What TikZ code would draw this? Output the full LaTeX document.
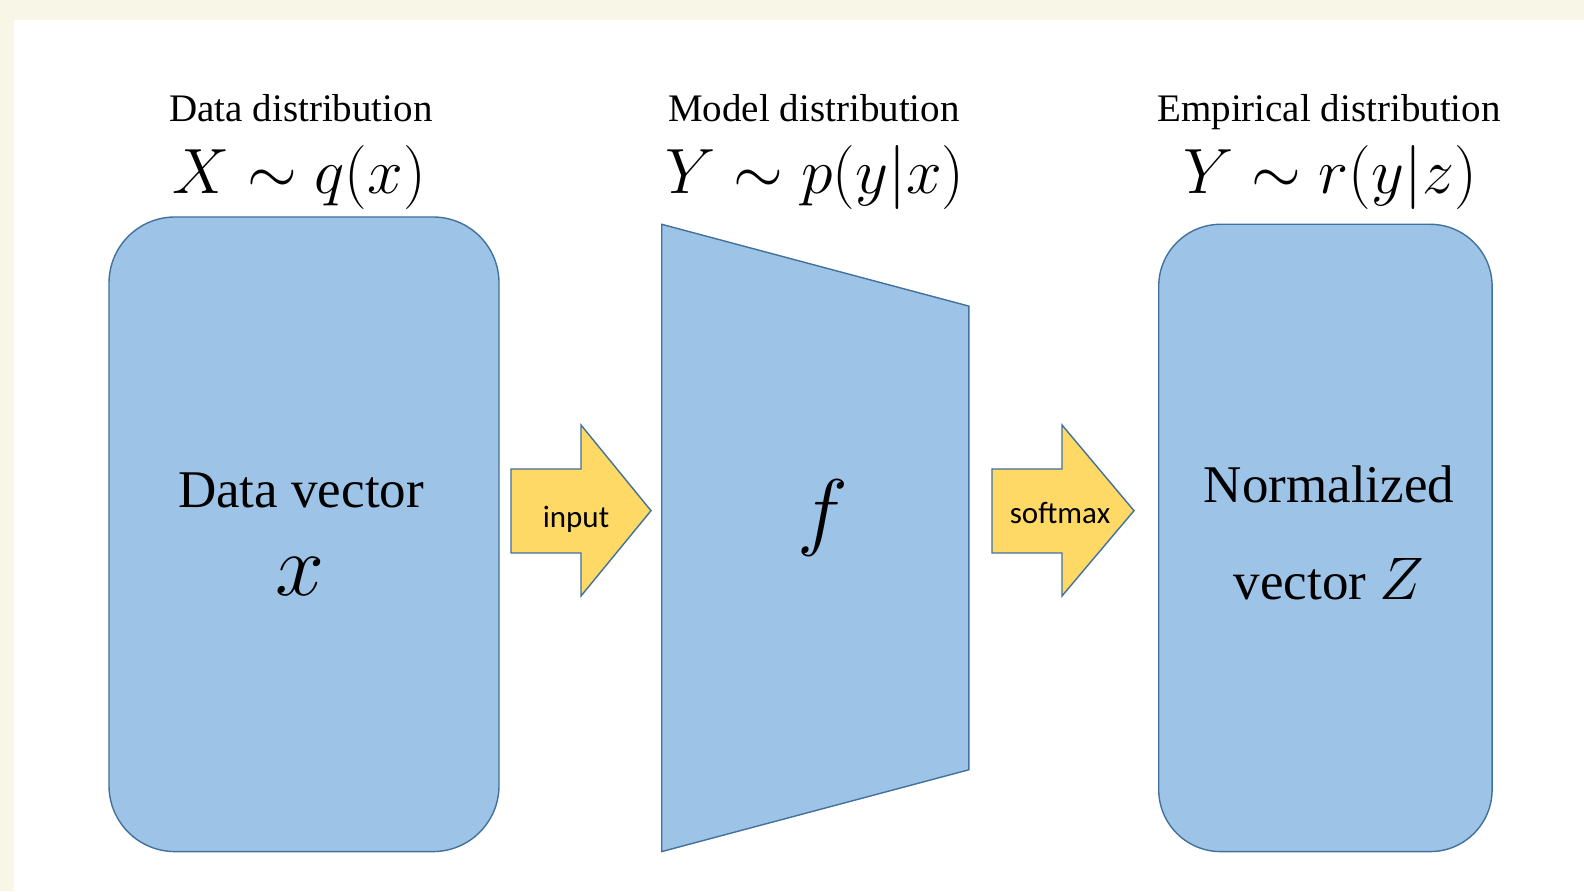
\documentclass[tikz,border=0pt]{standalone}
\usepackage{fix-cm}
\usepackage{fontspec}
\setmainfont{Liberation Serif}
\newfontfamily\labelfont{Carlito}
\definecolor{boxfill}{HTML}{9DC3E6}
\definecolor{boxline}{HTML}{41719C}
\definecolor{arrowfill}{HTML}{FFD966}
\definecolor{paper}{HTML}{F8F7E7}
\tikzset{
  block/.style={fill=boxfill, draw=boxline, line width=1.4pt},
  blockarrow/.style={fill=arrowfill, draw=boxline, line width=1.4pt, line join=miter},
  title/.style={inner sep=0pt, anchor=base, font=\fontsize{39}{46}\selectfont},
  formula/.style={inner sep=0pt, anchor=base, font=\fontsize{64}{74}\selectfont},
  inside/.style={inner sep=0pt, anchor=base, font=\fontsize{53}{62}\selectfont},
  arrowtext/.style={inner sep=0pt, anchor=base, font=\labelfont\fontsize{31}{36}\selectfont},
}
\begin{document}
\begin{tikzpicture}[x=1pt,y=1pt]
  % page and frame
  \fill[white] (0,0) rectangle (1584,891);
  \fill[paper] (0,871) rectangle (1584,891);
  \fill[paper] (0,0) rectangle (14,891);
  \useasboundingbox (0,0) rectangle (1584,891);

  % data block
  \draw[block, rounded corners=66pt] (109,39.4) rectangle (499,674);
  \node[inside] (datavec) at (301,383) {Data vector};
  \node[inner sep=0pt, anchor=base, font=\fontsize{88}{96}\selectfont] (datax) at (300,295) {$x$};

  % model block (trapezoid)
  \draw[block, line join=miter] (661.7,666.7) -- (968.8,584.9) -- (968.8,121.2) -- (661.7,39.4) -- cycle;
  \node[inner sep=0pt, anchor=base, font=\fontsize{86}{96}\selectfont] (model) at (823,351) {$f$};

  % normalized block
  \draw[block, rounded corners=62pt] (1158.7,39.4) rectangle (1492.1,666.7);
  \node[inside] (norm1) at (1329,388) {Normalized};
  \node[inside] (norm2) at (1329,291) {vector {\fontsize{60}{70}\selectfont$Z$}};

  % block arrows
  \draw[blockarrow] (511,422) -- (581,422) -- (581,466) -- (651,380.3) -- (581,295) -- (581,338) -- (511,338) -- cycle;
  \node[arrowtext] (input) at (576,363) {input};
  \draw[blockarrow] (992,422) -- (1062,422) -- (1062,466) -- (1134,380.3) -- (1062,295) -- (1062,338) -- (992,338) -- cycle;
  \node[arrowtext] (softmax) at (1060,367) {softmax};

  % headings
  \node[title] (t1) at (301,769) {Data distribution};
  \node[formula] (m1) at (299,697) {$X\sim q(x)$};
  \node[title] (t2) at (814,769) {Model distribution};
  \node[formula] (m2) at (815,697) {$Y\sim p(y|x)$};
  \node[title] (t3) at (1329,769) {Empirical distribution};
  \node[formula] (m3) at (1330,697) {$Y\sim r(y|z)$};
\end{tikzpicture}
\end{document}
